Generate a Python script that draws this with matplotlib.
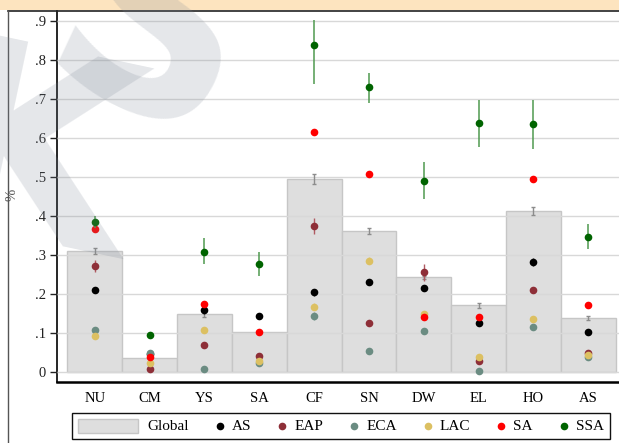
import numpy as np
import matplotlib
matplotlib.use("Agg")
import matplotlib.pyplot as plt
from matplotlib.lines import Line2D
from matplotlib.patches import Rectangle
from matplotlib.offsetbox import AnchoredOffsetbox, HPacker, DrawingArea, TextArea

# categories and values
cats = ["NU", "CM", "YS", "SA", "CF", "SN", "DW", "EL", "HO", "AS"]

glob = [0.310, 0.036, 0.148, 0.103, 0.495, 0.362, 0.243, 0.171, 0.413, 0.138]
glob_err = [0.007, 0.003, 0.006, 0.003, 0.013, 0.008, 0.004, 0.006, 0.011, 0.005]

as_vals = [0.211, 0.045, 0.160, 0.143, 0.205, 0.231, 0.215, 0.126, 0.282, 0.102]
as_err = [0.004, 0.004, 0.010, 0.004, 0.009, 0.007, 0.007, 0.005, 0.010, 0.004]

eap = [0.272, 0.008, 0.070, 0.040, 0.374, 0.127, 0.256, 0.028, 0.210, 0.050]
eap_err = [0.015, 0.003, 0.004, 0.004, 0.020, 0.006, 0.022, 0.004, 0.006, 0.004]

eca = [0.107, 0.050, 0.008, 0.022, 0.144, 0.053, 0.104, 0.003, 0.115, 0.038]
eca_err = [0.004, 0.004, 0.003, 0.003, 0.010, 0.004, 0.006, 0.003, 0.005, 0.003]

lac = [0.092, 0.024, 0.108, 0.028, 0.168, 0.285, 0.148, 0.038, 0.137, 0.044]
lac_err = [0.004, 0.003, 0.004, 0.003, 0.010, 0.009, 0.005, 0.004, 0.005, 0.003]

sa = [0.367, 0.038, 0.174, 0.103, 0.615, 0.507, 0.140, 0.142, 0.495, 0.172]
sa_err = [0.004, 0.003, 0.004, 0.003, 0.005, 0.005, 0.004, 0.004, 0.005, 0.004]

ssa = [0.385, 0.095, 0.308, 0.277, 0.838, 0.730, 0.490, 0.639, 0.637, 0.347]
ssa_lo = [0.370, 0.092, 0.276, 0.247, 0.738, 0.691, 0.443, 0.577, 0.572, 0.316]
ssa_hi = [0.400, 0.098, 0.344, 0.309, 0.904, 0.767, 0.538, 0.699, 0.699, 0.380]

series = [
    ("AS", as_vals, as_err, "#000000", "#333333"),
    ("EAP", eap, eap_err, "#8e2f38", "#b05a62"),
    ("ECA", eca, eca_err, "#6b8c82", "#8aa69d"),
    ("LAC", lac, lac_err, "#dcc062", "#e3cc85"),
    ("SA", sa, sa_err, "#ff0000", "#ff5555"),
]

serif = ["Liberation Serif", "DejaVu Serif"]
plt.rcParams["font.family"] = serif

W, H = 619, 443
fig = plt.figure(figsize=(W / 100, H / 100), dpi=100)

# orange header band and outer frame
fig.patches.append(Rectangle((0, 1 - 10 / H), 1, 10 / H, transform=fig.transFigure,
                             facecolor="#fde4bf", edgecolor="none", zorder=0))
fig.add_artist(Line2D([8 / W, 1], [1 - 10.5 / H, 1 - 10.5 / H], transform=fig.transFigure,
                      color="#222222", lw=1.2))
fig.add_artist(Line2D([7.5 / W, 7.5 / W], [0, 1 - 10.5 / H], transform=fig.transFigure,
                      color="#555555", lw=1.0))

ax = fig.add_axes([57 / W, 1 - 382 / H, 562 / W, 371 / H])
x = np.arange(len(cats))

ax.bar(x, glob, width=1.0, color="#dedede", edgecolor="#c6c6c6", lw=1.0, zorder=1)
ax.errorbar(x, glob, yerr=glob_err, fmt="none", ecolor="#8c8c8c", elinewidth=1,
            capsize=1.5, capthick=1, zorder=3)

for name, vals, err, col, ecol in series:
    ax.errorbar(x, vals, yerr=err, fmt="o", color=col, ecolor=ecol, ms=5.5, mew=0,
                elinewidth=1, capsize=1.5, capthick=1, zorder=4)

ssa_err = [np.array(ssa) - np.array(ssa_lo), np.array(ssa_hi) - np.array(ssa)]
ax.errorbar(x, ssa, yerr=ssa_err, fmt="o", color="#006400", ecolor="#4f9a4f", ms=5.5,
            mew=0, elinewidth=1.1, capsize=1.5, capthick=1, zorder=5)

ax.set_xlim(-0.69, 9.56)
ax.set_ylim(-0.0256, 0.926)
ax.set_yticks(np.arange(0, 0.91, 0.1))
ax.set_yticklabels(["0", ".1", ".2", ".3", ".4", ".5", ".6", ".7", ".8", ".9"])
ax.set_xticks(x)
ax.set_xticklabels(cats)
ax.tick_params(axis="x", length=0, pad=7, labelsize=10.5)
ax.tick_params(axis="y", length=5, width=1, pad=3, labelsize=10.5, colors="#222222")
ax.yaxis.grid(True, color="#d8d8d8", lw=1)
ax.set_axisbelow(False)
ax.spines["top"].set_visible(False)
ax.spines["right"].set_visible(False)
ax.spines["left"].set_linewidth(1.2)
ax.spines["bottom"].set_linewidth(1.8)
ax.set_ylabel("%", fontsize=10.5, color="#555555")
ax.yaxis.set_label_coords(-0.069, 0.504)

# legend row
pt = 72 / 100
items = []
da = DrawingArea(60 * pt, 14 * pt)
da.add_artist(Rectangle((0, 0), 60 * pt, 14 * pt, facecolor="#dedede", edgecolor="#c6c6c6", lw=1))
items.append(HPacker(children=[da, TextArea("Global", textprops=dict(fontsize=11, family=serif))],
                     sep=9 * pt, align="center"))
for name, vals, err, col, ecol in series + [("SSA", ssa, None, "#006400", None)]:
    dot = DrawingArea(8 * pt, 14 * pt)
    dot.add_artist(Line2D([4 * pt], [7 * pt], marker="o", ms=5.5, mew=0, color=col, ls="none"))
    items.append(HPacker(children=[dot, TextArea(name, textprops=dict(fontsize=11, family=serif))],
                         sep=8 * pt, align="center"))
row = HPacker(children=items, sep=27 * pt, align="center")
leg = AnchoredOffsetbox(loc="center", child=row, pad=0.45, borderpad=0, frameon=True,
                        bbox_to_anchor=(0.551, 1 - 426 / H), bbox_transform=fig.transFigure)
leg.patch.set_edgecolor("#111111")
leg.patch.set_linewidth(1.0)
fig.add_artist(leg)

# faint watermark letters over the top left
fig.text(30 / W, 1 - 170 / H, "K", fontsize=190, fontweight="bold", family="DejaVu Sans",
         color="#7d8796", alpha=0.2, rotation=-12, ha="center", va="center", zorder=50)
fig.text(150 / W, 1 - 45 / H, "S", fontsize=190, fontweight="bold", family="DejaVu Sans",
         color="#7d8796", alpha=0.2, rotation=-25, ha="center", va="center", zorder=50)

fig.savefig("out.png", dpi=100)
